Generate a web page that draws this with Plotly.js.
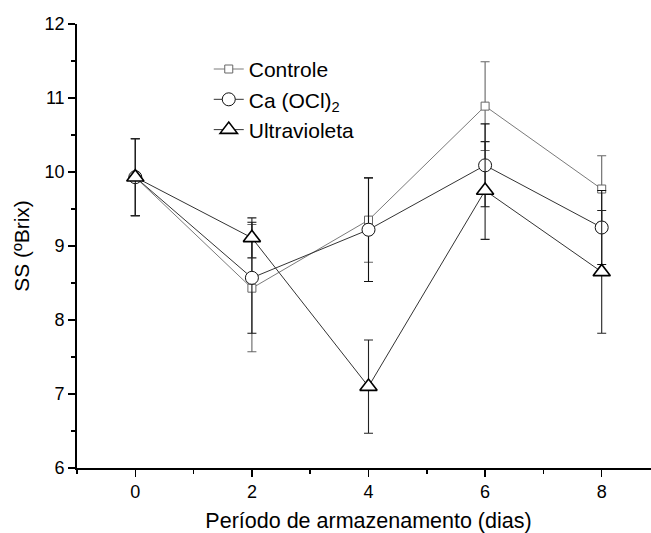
<!DOCTYPE html>
<html>
<head>
<meta charset="utf-8">
<script src="https://cdn.plot.ly/plotly-3.0.1.min.js"></script>
<style>
  html, body { margin: 0; padding: 0; overflow: hidden; background: #fff; }
  #chart { width: 660px; height: 533px; }
</style>
</head>
<body>
<div id="chart"></div>
<script>
// Storage period (days)
const dias = [0, 2, 4, 6, 8];

// Soluble solids (ºBrix) per treatment, with standard deviations
const controle = [9.93, 8.43, 9.35, 10.89, 9.77];
const controleErr = [0.52, 0.86, 0.57, 0.60, 0.45];

const cloro = [9.93, 8.57, 9.22, 10.09, 9.25];
const cloroErr = [0.52, 0.75, 0.70, 0.56, 0.50];

const uv = [9.93, 9.11, 7.10, 9.75, 8.65];
const uvErr = [0.52, 0.27, 0.63, 0.66, 0.83];

const nomes = ['Controle', 'Ca (OCl)<sub>2</sub>', 'Ultravioleta'];
const xTicks = [0, 2, 4, 6, 8];
const yTicks = [6, 7, 8, 9, 10, 11, 12];

const FONT = 'Liberation Sans, Arial, sans-serif';

function serie(y, err, name, symbol, size, mColor, mWidth, eColor, lColor) {
  return {
    x: dias, y: y, name: name, type: 'scatter', mode: 'lines+markers',
    line: { color: lColor, width: 1 },
    marker: { symbol: symbol, size: size, color: '#ffffff',
              line: { color: mColor, width: mWidth } },
    error_y: { type: 'data', array: err, visible: true,
               color: eColor, thickness: 1.1, width: 4.5 },
    cliponaxis: false
  };
}

const data = [
  serie(controle, controleErr, nomes[0], 'square', 8, '#666666', 1, '#666666', '#7a7a7a'),
  serie(cloro, cloroErr, nomes[1], 'circle', 13, '#111111', 1, '#111111', '#333333'),
  serie(uv, uvErr, nomes[2], 'triangle-up', 15, '#000000', 1.6, '#222222', '#333333')
];

const layout = {
  width: 660, height: 533,
  margin: { l: 77, r: 0, t: 24, b: 65 },
  paper_bgcolor: '#ffffff', plot_bgcolor: '#ffffff',
  font: { family: FONT, color: '#000000', size: 18 },
  showlegend: true,
  legend: {
    x: 0.226, y: 0.944, xanchor: 'left', yanchor: 'top',
    bgcolor: 'rgba(0,0,0,0)', borderwidth: 0,
    font: { family: FONT, size: 21, color: '#000' },
    tracegroupgap: 0
  },
  xaxis: {
    range: [-1, 9], tickvals: xTicks, ticktext: xTicks.map(String),
    ticks: 'outside', ticklen: 7, tickwidth: 1.5, tickcolor: '#000',
    minor: { dtick: 1, tick0: 1, ticks: 'outside', ticklen: 4, tickwidth: 1.5, tickcolor: '#000' },
    showline: true, linecolor: '#000', linewidth: 1.8,
    showgrid: false, zeroline: false,
    tickfont: { family: FONT, size: 18 },
    title: { text: 'Período de armazenamento (dias)', font: { family: FONT, size: 21.5 }, standoff: 14 }
  },
  yaxis: {
    range: [6, 12], tickvals: yTicks, ticktext: yTicks.map(String),
    ticks: 'outside', ticklen: 7, tickwidth: 1.5, tickcolor: '#000',
    minor: { dtick: 0.5, tick0: 6.5, ticks: 'outside', ticklen: 4, tickwidth: 1.5, tickcolor: '#000' },
    showline: true, linecolor: '#000', linewidth: 1.8,
    showgrid: false, zeroline: false,
    tickfont: { family: FONT, size: 18 },
    title: { text: 'SS (ºBrix)', font: { family: FONT, size: 21 }, standoff: 9 }
  }
};

Plotly.newPlot('chart', data, layout, { displayModeBar: false, staticPlot: true });
</script>
</body>
</html>
